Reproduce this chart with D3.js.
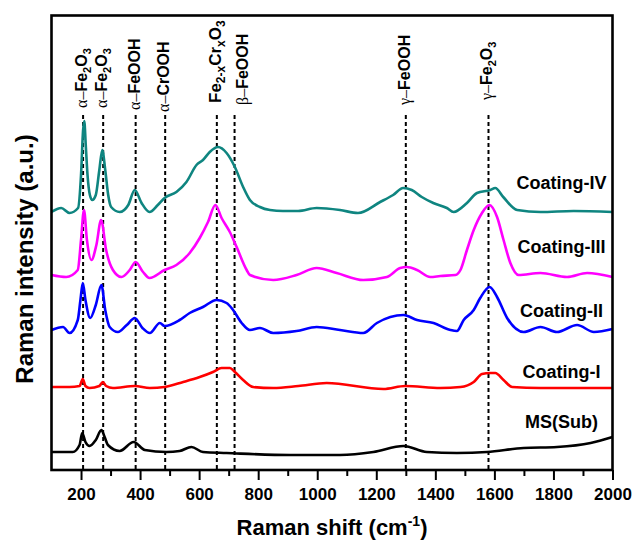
<!DOCTYPE html>
<html>
<head>
<meta charset="utf-8">
<script src="https://cdn.jsdelivr.net/npm/d3@7"></script>
<style>
body { margin: 0; background: #fff; }
svg text { font-family: "Liberation Sans", Arial, sans-serif; font-weight: bold; fill: #000; }
</style>
</head>
<body>
<div id="main"></div>
<script>
// spectra: [Raman shift (cm-1), intensity (a.u., stacked)]
var msSub = [[100,18],[172,18],[195,25],[204,37],[215,28],[229,24],[250,30],[269,40],[280,33],[291,25],
    [331,19],[378,28],[416,20],[489,18],[534,19],[574,23],[613,18],[693,17],[908,15],[1077,15],
    [1190,18],[1292,24],[1371,18],[1473,17],[1575,18],[1699,22],[1812,23],[1926,27],[2000,33]];

var coatingI = [[100,83],[161,83],[195,84],[206,91],[215,84],[229,82],[262,84],[274,88],[285,84],[308,82],
    [382,84],[433,82],[483,83],[546,88],[602,93],[647,98],[676,102],[704,102],[721,98],[749,90],
    [783,83],[851,82],[936,84],[1032,87],[1224,81],[1298,84],[1417,82],[1485,83],[1530,88],[1558,96],
    [1586,97],[1603,97],[1631,90],[1660,83],[1756,82],[2000,82]];

var coatingII = [[100,140],[139,143],[161,137],[189,150],[198,170],[206,187],[215,170],[231,152],[250,165],[269,185],
    [282,160],[297,143],[325,138],[355,145],[382,152],[408,142],[433,137],[467,147],[483,144],[534,150],
    [568,157],[613,163],[659,170],[693,167],[715,160],[744,147],[772,140],[806,142],[851,137],[930,139],
    [998,143],[1077,140],[1156,137],[1202,147],[1292,155],[1338,150],[1394,147],[1451,140],[1473,139],[1496,150],
    [1530,160],[1552,172],[1584,183],[1609,173],[1643,152],[1699,138],[1756,143],[1812,138],[1880,145],[1937,138],[2000,141]];

var coatingIII = [[100,195],[150,193],[189,200],[200,230],[210,260],[220,230],[235,210],[252,225],[268,250],[285,220],
    [308,200],[337,193],[365,200],[385,208],[410,198],[432,192],[483,200],[523,205],[568,217],[602,232],
    [630,248],[655,265],[676,252],[704,238],[727,223],[761,200],[772,195],[851,190],[930,195],[998,202],
    [1066,197],[1156,190],[1236,193],[1281,202],[1304,203],[1338,200],[1383,193],[1417,194],[1468,195],[1485,200],
    [1507,220],[1530,240],[1558,257],[1583,265],[1609,253],[1631,230],[1654,207],[1682,195],[1756,197],[1846,193],
    [1914,197],[2000,193]];

var coatingIV = [[100,258],[133,262],[161,257],[190,262],[200,295],[207,340],[211,349],[216,325],[222,295],[230,275],
    [238,270],[250,275],[262,300],[272,320],[282,300],[292,275],[302,263],[331,258],[360,265],[382,280],
    [405,267],[432,258],[460,265],[483,272],[523,278],[557,288],[591,305],[613,310],[636,318],[664,323],
    [693,317],[721,303],[749,283],[772,270],[806,263],[840,260],[884,259],[935,259],[998,262],[1077,260],
    [1138,257],[1213,268],[1257,275],[1291,282],[1320,280],[1354,273],[1393,267],[1439,262],[1462,258],[1507,267],
    [1541,277],[1586,280],[1603,282],[1630,273],[1677,260],[1756,258],[1868,259],[2000,258]];

var seriesNames = ["MS(Sub)", "Coating-I", "Coating-II", "Coating-III", "Coating-IV"];
var seriesData = [msSub, coatingI, coatingII, coatingIII, coatingIV];

// assigned bands (cm-1) and their labels: g = greek prefix, n = normal, s = subscript
var peakShifts = [207, 275, 385, 485, 660, 720, 1300, 1580];
var peakLabels = [
    [["α–","g"],["Fe","n"],["2","s"],["O","n"],["3","s"]],
    [["α–","g"],["Fe","n"],["2","s"],["O","n"],["3","s"]],
    [["α–","g"],["FeOOH","n"]],
    [["α–","g"],["CrOOH","n"]],
    [["Fe","n"],["2-x","s"],["Cr","n"],["x","s"],["O","n"],["3","s"]],
    [["β–","g"],["FeOOH","n"]],
    [["γ–","g"],["FeOOH","n"]],
    [["γ–","g"],["Fe","n"],["2","s"],["O","n"],["3","s"]]
];

var xTicks = [200, 400, 600, 800, 1000, 1200, 1400, 1600, 1800, 2000];
var xMinorTicks = [300, 500, 700, 900, 1100, 1300, 1500, 1700, 1900];

var ctx = {
    w: 635,
    h: 541,
    left: 51.5,
    right: 612.5,
    top: 15.5,
    bottom: 470,
    colors: ["#000000", "#ff0000", "#0000ff", "#ff00ff", "#0f8580"],
    nameX: 1827,
    nameLevel: [42, 92, 153, 217, 281],
    peakLabelLevel: [362, 362, 360, 358, 367, 365, 365, 370],
    dashTopLevel: 355
};

var createViz = function(){
    var svgEl = d3.select("#main").append("svg")
                  .attr("width", ctx.w)
                  .attr("height", ctx.h);

    ctx.xScale = d3.scaleLinear().domain([100, 2000]).range([ctx.left, ctx.right]);
    ctx.yScale = d3.scaleLinear().domain([0, 455]).range([ctx.bottom, ctx.bottom - 455]);

    // dashed band markers
    svgEl.append("g").selectAll("line")
         .data(peakShifts)
         .enter()
         .append("line")
         .attr("x1", function(d){return ctx.xScale(d);})
         .attr("x2", function(d){return ctx.xScale(d);})
         .attr("y1", ctx.yScale(ctx.dashTopLevel))
         .attr("y2", ctx.bottom)
         .style("stroke", "#000")
         .style("stroke-width", 2)
         .style("stroke-dasharray", "4,3");

    // spectra
    var lineGen = d3.line()
                    .x(function(d){return ctx.xScale(d[0]);})
                    .y(function(d){return ctx.yScale(d[1]);})
                    .curve(d3.curveMonotoneX);
    svgEl.append("g").selectAll("path")
         .data(seriesData)
         .enter()
         .append("path")
         .attr("d", lineGen)
         .style("fill", "none")
         .style("stroke", function(d, i){return ctx.colors[i];})
         .style("stroke-width", 2.6)
         .style("stroke-linejoin", "round");

    // series names
    svgEl.append("g").selectAll("text")
         .data(seriesNames)
         .enter()
         .append("text")
         .attr("x", ctx.xScale(ctx.nameX))
         .attr("y", function(d, i){return ctx.yScale(ctx.nameLevel[i]);})
         .attr("text-anchor", "middle")
         .style("font-size", "18px")
         .text(function(d){return d;});

    // band labels, rotated
    peakShifts.forEach(function(s, i){
        var dx = (i == 5) ? 13 : 4;
        var big = (i == 4);
        var t = svgEl.append("text")
                     .attr("transform", `translate(${ctx.xScale(s) + dx},${ctx.yScale(ctx.peakLabelLevel[i])}) rotate(-90)`)
                     .style("font-size", big ? "17px" : "16px");
        var shift = 0;
        peakLabels[i].forEach(function(p){
            var sp = t.append("tspan").text(p[0]);
            var target = (p[1] == "s") ? 4 : 0;
            if (target != shift){ sp.attr("dy", target - shift); shift = target; }
            if (p[1] == "g"){
                sp.style("font-family", "'Liberation Serif', 'Times New Roman', serif")
                  .style("font-weight", "normal");
            }
            if (p[1] == "s"){ sp.style("font-size", big ? "12px" : "11px"); }
        });
    });

    // x axis: major and minor ticks
    var axG = svgEl.append("g")
                   .attr("transform", `translate(0,${ctx.bottom})`)
                   .call(d3.axisBottom(ctx.xScale).tickValues(xTicks).tickSize(10).tickFormat(d3.format("d")));
    axG.select(".domain").remove();
    axG.selectAll("line").style("stroke-width", 2);
    axG.selectAll("text")
       .attr("y", 30)
       .attr("dy", null)
       .style("font-size", "17px")
       .style("font-family", "'Liberation Sans', Arial, sans-serif");
    var axM = svgEl.append("g")
                   .attr("transform", `translate(0,${ctx.bottom})`)
                   .call(d3.axisBottom(ctx.xScale).tickValues(xMinorTicks).tickSize(6).tickFormat(""));
    axM.select(".domain").remove();
    axM.selectAll("line").style("stroke-width", 2);

    // frame
    svgEl.append("rect")
         .attr("x", ctx.left)
         .attr("y", ctx.top)
         .attr("width", ctx.right - ctx.left)
         .attr("height", ctx.bottom - ctx.top)
         .style("fill", "none")
         .style("stroke", "#000")
         .style("stroke-width", 2.6);

    // axis titles
    var xt = svgEl.append("text")
                  .attr("x", (ctx.left + ctx.right) / 2)
                  .attr("y", 535)
                  .attr("text-anchor", "middle")
                  .style("font-size", "22px");
    xt.append("tspan").text("Raman shift (cm");
    xt.append("tspan").attr("dy", -9).style("font-size", "14px").text("-1");
    xt.append("tspan").attr("dy", 9).text(")");

    svgEl.append("text")
         .attr("transform", "translate(33,259) rotate(-90)")
         .attr("text-anchor", "middle")
         .style("font-size", "24px")
         .text("Raman intensity (a.u.)");
};

createViz();
</script>
</body>
</html>
